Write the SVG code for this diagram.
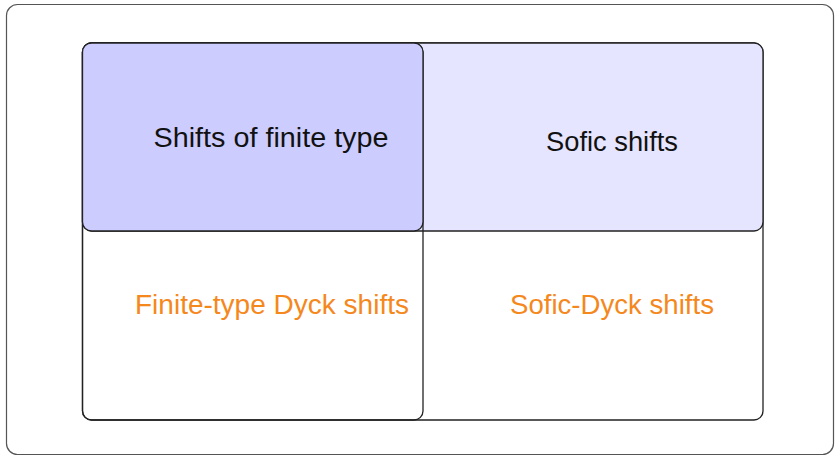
<svg xmlns="http://www.w3.org/2000/svg" width="836" height="456" viewBox="0 0 836 456">
  <style>
    .frame { fill: #ffffff; stroke: #555555; stroke-width: 1.2; }
    .box { stroke: #222222; stroke-width: 1.3; }
    .label { font-family: "Liberation Sans", Arial, sans-serif; font-size: 27px; text-anchor: middle; }
    .dark { fill: #111111; }
    .orange { fill: #f5881c; }
  </style>
  <rect class="frame" x="6.5" y="4.5" width="827" height="450" rx="11"/>
  <g id="sofic-dyck">
    <rect class="box" x="82.5" y="43" width="680.5" height="377" rx="9" fill="#ffffff" stroke="#444444"/>
    <text class="label orange" x="612" y="314" textLength="204" lengthAdjust="spacingAndGlyphs">Sofic-Dyck shifts</text>
  </g>
  <g id="sofic">
    <rect class="box" x="82.5" y="43" width="680.5" height="188" rx="9" fill="#e5e5ff"/>
    <text class="label dark" x="612" y="151" textLength="132" lengthAdjust="spacingAndGlyphs">Sofic shifts</text>
  </g>
  <g id="finite-type-dyck">
    <rect class="box" x="82.5" y="43" width="340.5" height="377" rx="9" fill="none"/>
    <text class="label orange" x="272" y="314" textLength="274" lengthAdjust="spacingAndGlyphs">Finite-type Dyck shifts</text>
  </g>
  <g id="finite-type">
    <rect class="box" x="82.5" y="43" width="340.5" height="188" rx="9" fill="#ccccff"/>
    <text class="label dark" x="271" y="147" textLength="235" lengthAdjust="spacingAndGlyphs">Shifts of finite type</text>
  </g>
  <g id="connectors"/>
</svg>
